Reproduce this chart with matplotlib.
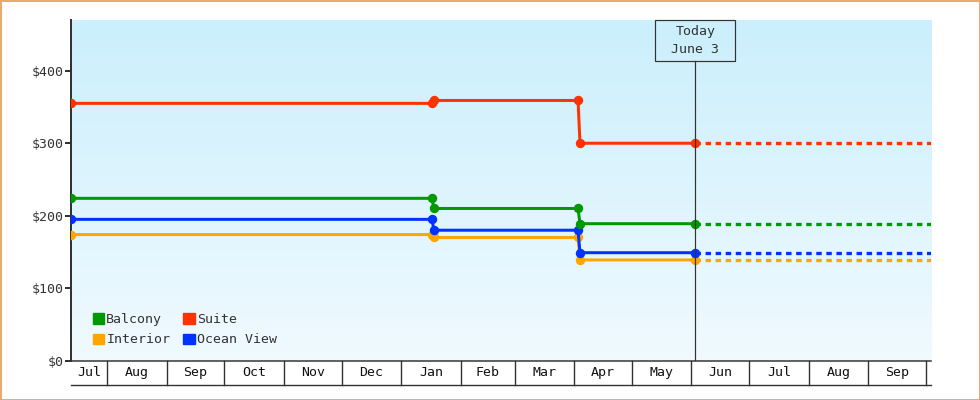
import matplotlib
matplotlib.use('Agg')
import matplotlib.pyplot as plt
import matplotlib.dates as mdates
from matplotlib.colors import LinearSegmentedColormap
from matplotlib.patches import Rectangle, Patch
import numpy as np
import pandas as pd


# =============================================================================
# DATA
# =============================================================================

dates = ['2022-07-13', '2023-01-17', '2023-01-18', '2023-04-03', '2023-04-04', '2023-06-03']
balcony = [224, 224, 210, 210, 189, 189]
suite = [355, 355, 359, 359, 300, 300]
ocean_view = [195, 195, 180, 180, 149, 149]
interior = [174, 174, 170, 170, 139, 139]
forecast_end = '2023-10-03 12:00'
today = '2023-06-03'
today_label = 'Today\nJune 3'
month_starts = pd.date_range('2022-07-01', '2023-10-01', freq='MS')
y_ticks = [0, 100, 200, 300, 400]

# series drawn bottom to top
series = [('Interior', interior, '#ffa500'),
          ('Ocean View', ocean_view, '#0033ff'),
          ('Balcony', balcony, '#009900'),
          ('Suite', suite, '#ff3300')]


# =============================================================================
# PLOT
# =============================================================================

px = 72. / 100.  # points per pixel
dark = '#333333'
font = {'family': 'DejaVu Sans Mono', 'size': 9.5}

fig = plt.figure(figsize=(9.8, 4), dpi=100)
ax = fig.add_axes([70.7/980, 1-360.7/400, 860/980, 340.7/400])

x = pd.to_datetime(dates)
x0 = mdates.date2num(x[0])
x1 = mdates.date2num(pd.Timestamp(forecast_end))
xt = mdates.date2num(pd.Timestamp(today))

# background gradient
cmap = LinearSegmentedColormap.from_list('bg', ['#cbeffc', '#f0faff'])
ax.imshow(np.linspace(0, 1, 256).reshape(-1, 1), cmap=cmap, extent=(0, 1, 0, 1),
          transform=ax.transAxes, aspect='auto', zorder=0, interpolation='bicubic')

for name, vals, col in series:
    ax.plot(mdates.date2num(x), vals, color=col, lw=3*px, marker='o', ms=8*px,
            mec=col, solid_joinstyle='miter', zorder=3)
    ax.plot([xt, x1], [vals[-1], vals[-1]], color=col, lw=3.3*px,
            linestyle=(0, (1.65, 1.4)), dash_capstyle='butt', zorder=2)

ax.set_xlim(x0, x1)
ax.set_ylim(0, 470)

# today marker
ty = 1 - 40.7/340.7
ax.plot([xt, xt], [0, ty], color=dark, lw=1.2*px, transform=ax.get_xaxis_transform(),
        zorder=4)
bw = 80 / (860 / (x1 - x0))
ax.add_patch(Rectangle((xt - bw/2, ty), bw, 40.7/340.7, transform=ax.get_xaxis_transform(),
                       fill=False, ec=dark, lw=1.2*px, zorder=4, clip_on=False))
ax.text(xt, ty + 20.3/340.7, today_label, transform=ax.get_xaxis_transform(),
        ha='center', va='center', color=dark, linespacing=1.5, zorder=5, **font)

# axes styling
for s in ['top', 'right']:
    ax.spines[s].set_visible(False)
ax.spines['left'].set_color(dark)
ax.spines['left'].set_linewidth(2*px)
ax.spines['bottom'].set_color(dark)
ax.spines['bottom'].set_linewidth(1.5*px)
ax.set_yticks(y_ticks)
ax.set_yticklabels(['$%d' % v for v in y_ticks])
ax.tick_params(axis='y', length=6*px, width=2*px, color=dark, pad=1, labelcolor=dark,
               labelsize=font['size'])
for lab in ax.get_yticklabels():
    lab.set_family(font['family'])
ax.set_xticks([])

# month boxes below the axis
trans = ax.get_xaxis_transform()
bh = 24 / 340.7
edges = [mdates.date2num(d) for d in month_starts]
for i, d in enumerate(month_starts):
    left = max(edges[i], x0)
    right = min(edges[i+1], x1) if i+1 < len(edges) else x1
    if edges[i] > x0 and edges[i] <= x1:
        ax.plot([edges[i], edges[i]], [0, -bh], color=dark, lw=1.4*px, transform=trans,
                clip_on=False)
    if right - left > 10:
        ax.text((left + right)/2, -bh/2, d.strftime('%b'), transform=trans,
                ha='center', va='center', color='#111111', **font)
ax.plot([0, 1], [-bh, -bh], color=dark, lw=1.4*px, transform=ax.transAxes, clip_on=False)

# legend
handles = [Patch(color=c, label=n) for n, v, c in
           [series[2], series[0], series[3], series[1]]]
ax.legend(handles=handles, ncol=2, loc='lower left', bbox_to_anchor=(0.026, 0.042),
          frameon=False, prop=font, handlelength=0.85, handleheight=0.85,
          handletextpad=0.15, columnspacing=1.0, labelspacing=0.55, borderpad=0,
          borderaxespad=0, labelcolor=dark)

# outer border
fig.patches.append(Rectangle((0, 0), 1, 1, transform=fig.transFigure, fill=False,
                             ec='#e9aa6c', lw=3*px))

fig.savefig('out.png', dpi=100)
